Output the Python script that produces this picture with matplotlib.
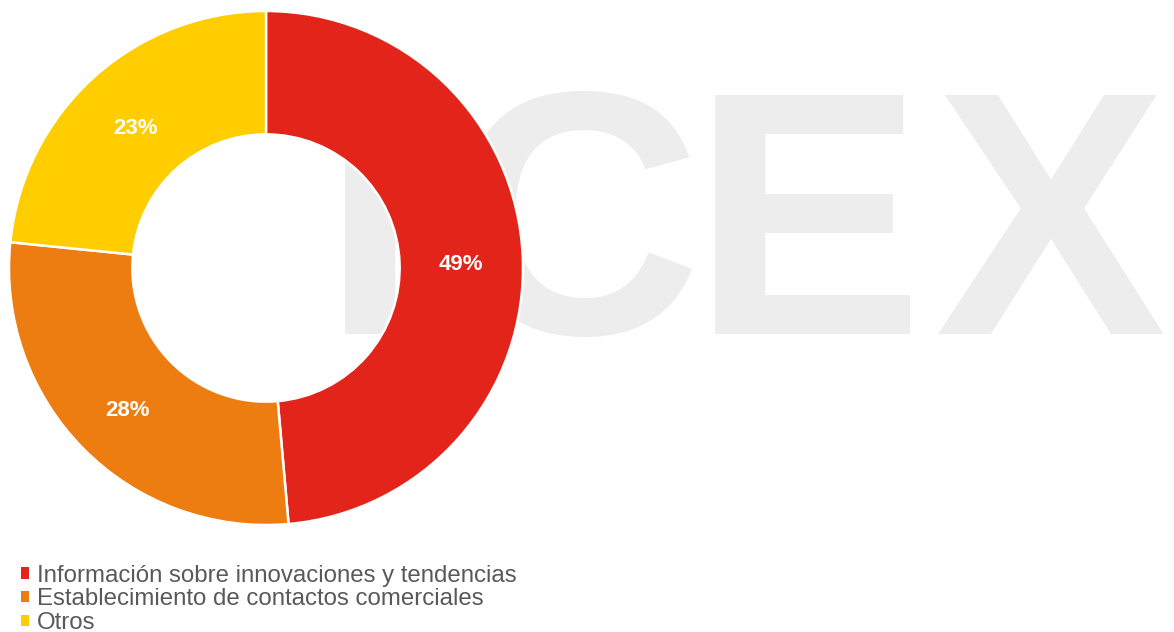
import matplotlib
matplotlib.use('Agg')
import matplotlib.pyplot as plt

# Datos del gráfico
categorias = ['Información sobre innovaciones y tendencias',
              'Establecimiento de contactos comerciales',
              'Otros']
valores = [48.6, 28.0, 23.4]
colores = ['#E3241B', '#EE7D11', '#FFCD00']

plt.rcParams['font.family'] = ['Liberation Sans', 'DejaVu Sans']

W, H = 1174, 632
fig = plt.figure(figsize=(W / 100, H / 100), dpi=100)

# Marca de agua "ICEX" al fondo
gris = '#EDEDED'
for letra, xc in [('I', 370), ('C', 576), ('E', 808), ('X', 1051)]:
    fig.text(xc / W, 1 - 244 / H, letra, ha='center', va='center',
             fontsize=250, fontweight='bold', color=gris, zorder=0)

# Donut
cx, cy, r = 266, 268, 257
ax = fig.add_axes([(cx - r) / W, (H - cy - r) / H, 2 * r / W, 2 * r / H])
ax.set_zorder(2)
ax.patch.set_alpha(0)
wedges, textos, autotextos = ax.pie(
    valores, colors=colores, startangle=90, counterclock=False,
    autopct='%1.0f%%', pctdistance=0.76,
    wedgeprops=dict(width=0.48, edgecolor='white', linewidth=1.8),
    textprops=dict(color='white', fontsize=16, fontweight='bold'))
# bajar un poco las etiquetas
for t in autotextos:
    x, y = t.get_position()
    t.set_position((x, y - 0.02))
ax.set_xlim(-1, 1)
ax.set_ylim(-1, 1)
ax.set_aspect('equal')
ax.axis('off')

# Leyenda
leg = fig.legend(wedges, categorias, loc='lower left',
                 bbox_to_anchor=(21 / W, -2 / H), frameon=False,
                 fontsize=17.3, handlelength=0.33, handleheight=0.33,
                 handletextpad=0.33, labelspacing=0.07, borderpad=0,
                 borderaxespad=0)
leg.set_zorder(3)
for t in leg.get_texts():
    t.set_color('#595959')
for h in leg.legend_handles:
    h.set_edgecolor('none')

fig.savefig('out.png', dpi=100)
